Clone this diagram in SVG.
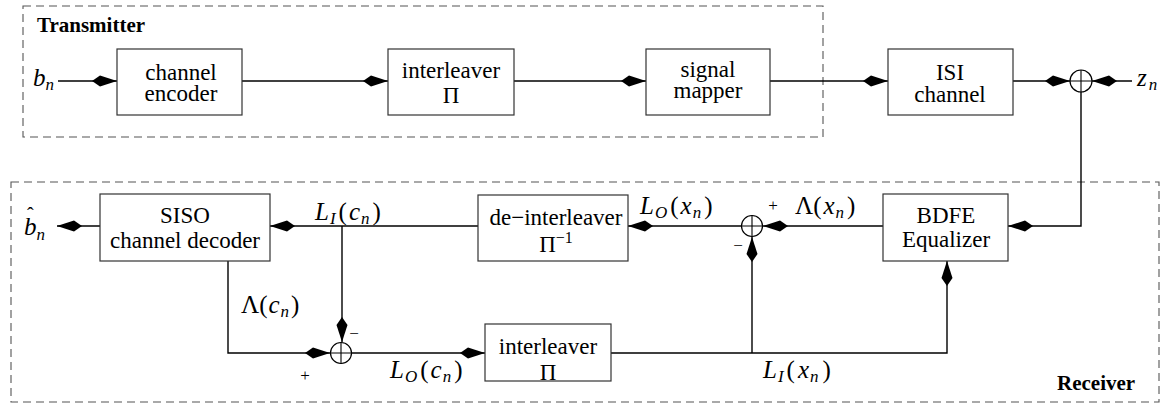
<svg xmlns="http://www.w3.org/2000/svg" width="1173" height="414" viewBox="0 0 1173 414">
<style>
.frame{fill:none;stroke:#555;stroke-width:1.1;stroke-dasharray:8,5}
.box{fill:#fff;stroke:#333;stroke-width:1.2}
.sum{fill:#fff;stroke:#000;stroke-width:1.2}
.w{fill:none;stroke:#000;stroke-width:1.4}
.c{fill:none;stroke:#000;stroke-width:1.4;marker-end:url(#ah)}
.t{font-family:"Liberation Serif","Times New Roman",serif;font-size:23px;text-anchor:middle;fill:#000}
.bold{font-family:"Liberation Serif","Times New Roman",serif;font-size:21px;font-weight:bold;fill:#000}
.m{font-family:"Liberation Serif","Times New Roman",serif;font-size:25px;font-style:italic;fill:#000}
.r{font-style:normal}
.s{font-size:17px}
.sg{font-family:"Liberation Serif","Times New Roman",serif;font-size:17px;text-anchor:middle;fill:#000}
</style>
<defs>
<marker id="ah" markerUnits="userSpaceOnUse" markerWidth="30" markerHeight="14" refX="26" refY="7" orient="auto" overflow="visible">
<path d="M26,7 L9,1.5 L1,7 L9,12.5 Z" fill="#000"/>
</marker>
</defs>

<rect class="frame" x="23" y="6" width="800" height="131"/>
<text class="bold" x="37" y="32">Transmitter</text>
<rect class="frame" x="11" y="182" width="1148" height="220"/>
<text class="bold" x="1057" y="390">Receiver</text>

<g id="connectors">
<line class="c" x1="58" y1="81" x2="117" y2="81"/>
<line class="c" x1="242" y1="81" x2="388" y2="81"/>
<line class="c" x1="514" y1="81" x2="646" y2="81"/>
<line class="c" x1="770" y1="81" x2="888" y2="81"/>
<line class="c" x1="1013" y1="81" x2="1070" y2="81"/>
<line class="c" x1="1132" y1="81" x2="1092" y2="81"/>
<polyline class="c" points="1081,92 1081,226 1008,226"/>
<line class="c" x1="883" y1="226" x2="763" y2="226"/>
<line class="c" x1="741" y1="226" x2="628" y2="226"/>
<line class="c" x1="478" y1="226" x2="270" y2="226"/>
<line class="c" x1="100" y1="226" x2="57" y2="226"/>
<line class="c" x1="342" y1="226" x2="342" y2="342"/>
<polyline class="c" points="228,261 228,353 330,353"/>
<line class="c" x1="352" y1="353" x2="485" y2="353"/>
<polyline class="c" points="611,353 947,353 947,261"/>
<line class="c" x1="752" y1="353" x2="752" y2="237"/>
</g>

<g id="bn"><text class="m" x="33" y="86">b<tspan class="s" dy="4">n</tspan></text></g>
<g id="zn"><text class="m" x="1137" y="86">z<tspan class="s" dx="2" dy="4">n</tspan></text></g>

<g id="channel-encoder">
<rect class="box" x="117" y="49" width="125" height="66"/>
<text class="t" x="181" y="80">channel</text>
<text class="t" x="181" y="101">encoder</text>
</g>
<g id="interleaver-tx">
<rect class="box" x="388" y="49" width="126" height="66"/>
<text class="t" x="451" y="78">interleaver</text>
<text class="t" x="451" y="103">Π</text>
</g>
<g id="signal-mapper">
<rect class="box" x="646" y="49" width="124" height="66"/>
<text class="t" x="708" y="77">signal</text>
<text class="t" x="708" y="98">mapper</text>
</g>
<g id="isi-channel">
<rect class="box" x="888" y="49" width="125" height="66"/>
<text class="t" x="950" y="80">ISI</text>
<text class="t" x="950" y="102">channel</text>
</g>
<g id="sum-tx">
<circle class="sum" cx="1081" cy="81" r="11"/>
<path class="w" d="M1070,81 H1092 M1081,70 V92" style="stroke-width:1.1"/>
</g>

<g id="siso-decoder">
<rect class="box" x="100" y="194" width="170" height="67"/>
<text class="t" x="185" y="223">SISO</text>
<text class="t" x="185" y="248">channel decoder</text>
</g>
<g id="de-interleaver">
<rect class="box" x="478" y="195" width="150" height="66"/>
<text class="t" x="556" y="225">de−interleaver</text>
<text class="t" x="556" y="252">Π<tspan font-size="16" dy="-9">−1</tspan></text>
</g>
<g id="bdfe">
<rect class="box" x="883" y="194" width="125" height="67"/>
<text class="t" x="946" y="223">BDFE</text>
<text class="t" x="946" y="247">Equalizer</text>
</g>
<g id="interleaver-rx">
<rect class="box" x="485" y="324" width="126" height="57"/>
<text class="t" x="548" y="354">interleaver</text>
<text class="t" x="548" y="380">Π</text>
</g>
<g id="sum-rx-top">
<circle class="sum" cx="752" cy="226" r="10.5"/>
<path class="w" d="M741.5,226 H762.5 M752,215.5 V236.5" style="stroke-width:1.1"/>
<text class="sg" x="773" y="211">+</text>
<text class="sg" x="738" y="251">−</text>
</g>
<g id="sum-rx-bottom">
<circle class="sum" cx="341" cy="353" r="10.5"/>
<path class="w" d="M330.5,353 H351.5 M341,342.5 V363.5" style="stroke-width:1.1"/>
<text class="sg" x="354" y="339">−</text>
<text class="sg" x="305" y="381">+</text>
</g>

<g id="labels">
<text class="m" x="24" y="235"><tspan class="r" font-size="20" dx="3" dy="-13">ˆ</tspan></text>
<text class="m" x="24" y="235">b<tspan class="s" dy="5">n</tspan></text>
<text class="m" x="315" y="220">L<tspan class="s" dx="1" dy="4">I</tspan><tspan class="r" dx="3" dy="-4">(</tspan><tspan dx="2">c</tspan><tspan class="s" dx="1" dy="4">n</tspan><tspan class="r" dx="3" dy="-4">)</tspan></text>
<text class="m" x="241" y="313"><tspan class="r">Λ(</tspan><tspan dx="1">c</tspan><tspan class="s" dx="1" dy="4">n</tspan><tspan class="r" dx="2" dy="-4">)</tspan></text>
<text class="m" x="390" y="378">L<tspan class="s" dx="1" dy="4">O</tspan><tspan class="r" dx="3" dy="-4">(</tspan><tspan dx="2">c</tspan><tspan class="s" dx="1" dy="4">n</tspan><tspan class="r" dx="3" dy="-4">)</tspan></text>
<text class="m" x="640" y="214">L<tspan class="s" dx="1" dy="4">O</tspan><tspan class="r" dx="3" dy="-4">(</tspan><tspan dx="2">x</tspan><tspan class="s" dx="1" dy="4">n</tspan><tspan class="r" dx="3" dy="-4">)</tspan></text>
<text class="m" x="795" y="214"><tspan class="r">Λ(</tspan><tspan dx="2">x</tspan><tspan class="s" dx="1" dy="4">n</tspan><tspan class="r" dx="3" dy="-4">)</tspan></text>
<text class="m" x="763" y="378">L<tspan class="s" dx="1" dy="4">I</tspan><tspan class="r" dx="3" dy="-4">(</tspan><tspan dx="3">x</tspan><tspan class="s" dx="1" dy="4">n</tspan><tspan class="r" dx="4" dy="-4">)</tspan></text>
</g>
</svg>
